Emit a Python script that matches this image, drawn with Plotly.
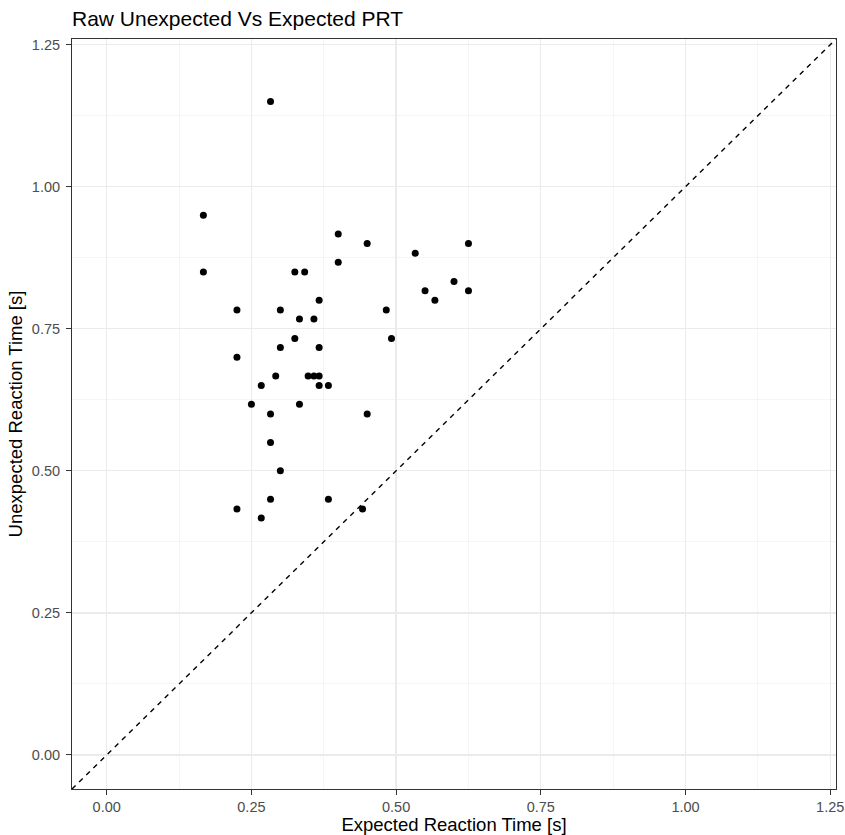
import plotly.graph_objects as go

# ---- data ----
expected_rt = [0.283, 0.167, 0.167, 0.400, 0.400, 0.450, 0.533, 0.625, 0.600, 0.550,
               0.625, 0.567, 0.325, 0.342, 0.225, 0.300, 0.367, 0.333, 0.358, 0.483,
               0.325, 0.300, 0.367, 0.225, 0.492, 0.292, 0.348, 0.358, 0.367, 0.267,
               0.367, 0.383, 0.250, 0.333, 0.283, 0.450, 0.283, 0.300, 0.283, 0.383,
               0.225, 0.267, 0.442]
unexpected_rt = [1.150, 0.950, 0.850, 0.917, 0.867, 0.900, 0.883, 0.900, 0.833, 0.817,
                 0.817, 0.800, 0.850, 0.850, 0.783, 0.783, 0.800, 0.767, 0.767, 0.783,
                 0.733, 0.717, 0.717, 0.700, 0.733, 0.667, 0.667, 0.667, 0.667, 0.650,
                 0.650, 0.650, 0.617, 0.617, 0.600, 0.600, 0.550, 0.500, 0.450, 0.450,
                 0.433, 0.417, 0.433]
tick_vals = [0.00, 0.25, 0.50, 0.75, 1.00, 1.25]
tick_text = ["0.00", "0.25", "0.50", "0.75", "1.00", "1.25"]
axis_limits = [0.0, 1.2]          # data limits (ggplot adds 5% expansion)
abline_intercept = 0.0
abline_slope = 1.0

title_text = "Raw Unexpected Vs Expected PRT"
x_title = "Expected Reaction Time [s]"
y_title = "Unexpected Reaction Time [s]"

# ---- derived ----
span = axis_limits[1] - axis_limits[0]
rng = [axis_limits[0] - 0.05 * span, axis_limits[1] + 0.05 * span]

FONT = "Liberation Sans, Arial, sans-serif"

fig = go.Figure()
fig.add_trace(go.Scatter(
    x=expected_rt, y=unexpected_rt, mode="markers",
    marker=dict(color="black", size=7, line=dict(width=0)),
    showlegend=False, hoverinfo="x+y",
))

fig.add_shape(type="line", xref="x", yref="y",
              x0=rng[0], y0=abline_intercept + abline_slope * rng[0],
              x1=rng[1], y1=abline_intercept + abline_slope * rng[1],
              line=dict(color="black", width=1.4, dash="5px,5px"), layer="above")

axis_common = dict(
    range=rng, tickvals=tick_vals, ticktext=tick_text,
    showgrid=True, gridcolor="#EBEBEB", gridwidth=1.3,
    minor=dict(dtick=0.125, tick0=0.125, showgrid=True, gridcolor="#F2F2F2", gridwidth=0.8, ticks=""),
    zeroline=False,
    showline=True, mirror=True, linecolor="#333333", linewidth=1,
    ticks="outside", ticklen=5, tickwidth=1, tickcolor="#333333",
    tickfont=dict(family=FONT, size=14.5, color="#4D4D4D"),
    title_font=dict(family=FONT, size=18.5, color="black"),
    fixedrange=True,
)

fig.update_layout(
    width=845, height=835,
    margin=dict(l=72, r=9, t=39, b=46, autoexpand=False),
    paper_bgcolor="white", plot_bgcolor="white",
    title=dict(text=title_text, x=0, xref="paper", xanchor="left",
               y=1 - 18.5 / 835, yref="container", yanchor="middle",
               font=dict(family=FONT, size=21, color="black")),
    xaxis=dict(axis_common, ticklabelstandoff=0, title=dict(text=x_title, standoff=4)),
    yaxis=dict(axis_common, ticklabelstandoff=3, title=dict(text=y_title, standoff=4)),
)

fig.write_html("out.html",
               config={"displayModeBar": False, "staticPlot": True},
               post_script="document.body.style.margin='0';document.body.style.overflow='hidden';")
